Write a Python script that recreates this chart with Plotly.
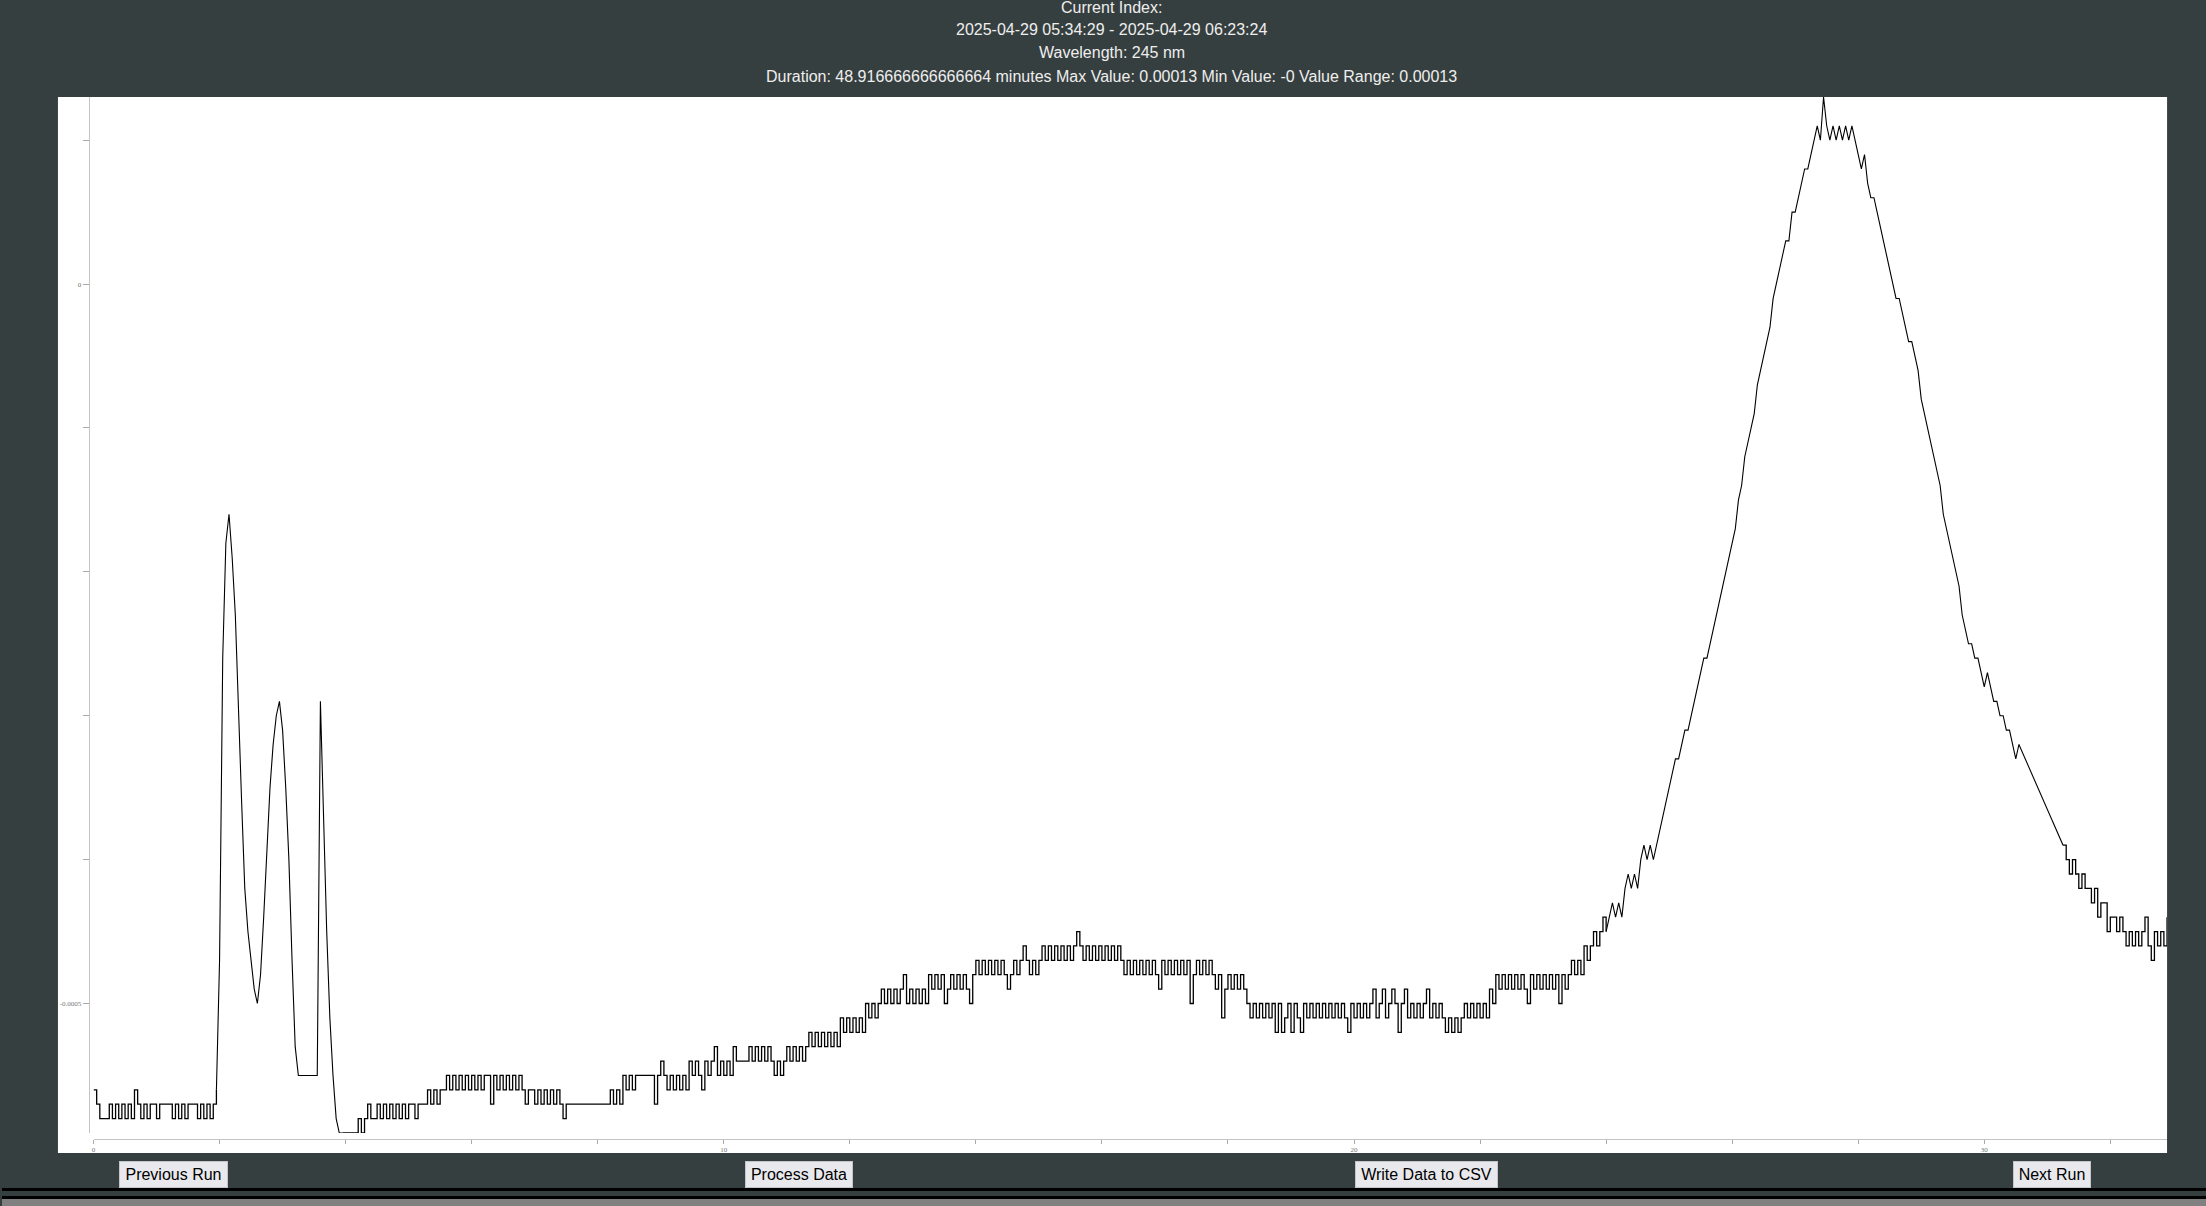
import plotly.graph_objects as go

# ---------------- data ----------------
# Absorbance readings in units of 1e-5 AU, one sample every 0.05 min.
# Run 1: 0.00 -> 30.55 min, one row per minute (20 samples per row)
run1_levels = [
    -56, -57, -58, -58, -58, -57, -58, -57, -58, -57, -58, -57, -58, -56, -57, -58, -57, -58, -57, -57,  # 0
    -58, -57, -57, -57, -57, -58, -57, -58, -57, -58, -57, -57, -57, -58, -57, -58, -57, -58, -57, -56,  # 1
    -47, -26, -18, -16, -19, -23, -30, -36, -42, -45, -47, -49, -50, -48, -44, -39, -35, -32, -30, -29,  # 2
    -31, -35, -40, -47, -53, -55, -55, -55, -55, -55, -55, -55, -29, -37, -45, -51, -55, -58, -59, -59,  # 3
    -59, -59, -59, -59, -58, -59, -58, -57, -58, -58, -57, -58, -57, -58, -57, -58, -57, -58, -57, -58,  # 4
    -57, -57, -58, -57, -57, -57, -56, -57, -56, -57, -56, -56, -55, -56, -55, -56, -55, -56, -55, -56,  # 5
    -55, -56, -55, -56, -55, -55, -57, -55, -56, -55, -56, -55, -56, -55, -56, -55, -56, -57, -56, -56,  # 6
    -57, -56, -57, -56, -57, -56, -57, -56, -57, -58, -57, -57, -57, -57, -57, -57, -57, -57, -57, -57,  # 7
    -57, -57, -57, -57, -56, -57, -56, -57, -55, -56, -55, -56, -55, -55, -55, -55, -55, -55, -57, -55,  # 8
    -54, -55, -56, -55, -56, -55, -56, -55, -56, -54, -55, -54, -55, -56, -54, -55, -54, -53, -55, -54,  # 9
    -55, -54, -55, -53, -54, -54, -54, -54, -53, -54, -53, -54, -53, -54, -53, -54, -55, -54, -55, -54,  # 10
    -53, -54, -53, -54, -53, -54, -53, -52, -53, -52, -53, -52, -53, -52, -53, -52, -53, -51, -52, -51,  # 11
    -52, -51, -52, -51, -52, -50, -51, -50, -51, -50, -49, -50, -49, -50, -49, -50, -49, -48, -50, -49,  # 12
    -50, -49, -50, -49, -50, -48, -49, -48, -49, -48, -50, -49, -48, -49, -48, -49, -48, -49, -50, -48,  # 13
    -47, -48, -47, -48, -47, -48, -47, -48, -47, -48, -49, -48, -47, -48, -47, -46, -47, -48, -47, -48,  # 14
    -47, -46, -47, -46, -47, -46, -47, -46, -47, -46, -47, -46, -45, -46, -47, -46, -47, -46, -47, -46,  # 15
    -47, -46, -47, -46, -47, -46, -47, -48, -47, -48, -47, -48, -47, -48, -47, -48, -47, -48, -49, -47,  # 16
    -48, -47, -48, -47, -48, -47, -48, -47, -50, -48, -47, -48, -47, -48, -47, -48, -49, -48, -51, -49,  # 17
    -48, -49, -48, -49, -48, -49, -50, -51, -50, -51, -50, -51, -50, -51, -50, -52, -50, -52, -51, -50,  # 18
    -52, -50, -51, -52, -50, -51, -50, -51, -50, -51, -50, -51, -50, -51, -50, -51, -50, -51, -52, -50,  # 19
    -51, -50, -51, -50, -51, -50, -49, -51, -50, -49, -51, -50, -49, -50, -52, -50, -49, -51, -50, -51,  # 20
    -50, -51, -50, -49, -51, -50, -51, -50, -51, -52, -51, -52, -51, -52, -51, -50, -51, -50, -51, -50,  # 21
    -51, -50, -51, -49, -50, -48, -49, -48, -49, -48, -49, -48, -49, -48, -49, -50, -48, -49, -48, -49,  # 22
    -48, -49, -48, -49, -48, -50, -48, -49, -48, -47, -48, -47, -48, -46, -47, -46, -45, -46, -45, -44,  # 23
    -45, -44, -43, -44, -43, -44, -42, -41, -42, -41, -42, -40, -39, -40, -39, -40, -39, -38, -37, -36,  # 24
    -35, -34, -33, -33, -32, -31, -31, -30, -29, -28, -27, -26, -26, -25, -24, -23, -22, -21, -20, -19,  # 25
    -18, -17, -15, -14, -12, -11, -10, -9, -7, -6, -5, -4, -3, -1, 0, 1, 2, 3, 3, 5,                   # 26
    5, 6, 7, 8, 8, 9, 10, 11, 10, 13, 11, 10, 11, 10, 11, 10, 11, 10, 11, 10,                           # 27
    9, 8, 9, 7, 6, 6, 5, 4, 3, 2, 1, 0, -1, -1, -2, -3, -4, -4, -5, -6,                                 # 28
    -8, -9, -10, -11, -12, -13, -14, -16, -17, -18, -19, -20, -21, -23, -24, -25, -25, -26, -26, -27,   # 29
    -28, -27, -28, -29, -29, -30, -30, -31, -31, -32, -33, -32,                                         # 30
]
# Run 2 (after the gap in acquisition): 31.25 -> 32.90 min
run2_levels = [
    -39, -40, -41, -40, -41, -42, -41, -42, -42, -43, -42, -44, -43, -43, -45, -44, -44,
    -45, -44, -45, -46, -45, -46, -45, -46, -45, -44, -46, -47, -45, -46, -45, -46, -44,
]
sample_interval_min = 0.05
run1_start_min = 0.0
run2_start_min = 31.25
level_unit_au = 1e-5

# sample-index ranges of run 1 drawn as straight segments (the peaks); the rest is drawn as steps
smooth_sections = [(39, 79), (480, 612)]

x_range = [0, 32.9]
y_range = [-0.00059, 0.00013]

x_tick_vals = [0, 2, 4, 6, 8, 10, 12, 14, 16, 18, 20, 22, 24, 26, 28, 30, 32]
x_tick_text = ["0", "", "", "", "", "10", "", "", "", "", "20", "", "", "", "", "30", ""]
y_tick_vals = [0.0001, 0, -0.0001, -0.0002, -0.0003, -0.0004, -0.0005]
y_tick_text = ["", "0", "", "", "", "", "-0.0005"]

title_lines = [
    "Current Index:",
    "2025-04-29 05:34:29 - 2025-04-29 06:23:24",
    "Wavelength: 245 nm",
    "Duration: 48.916666666666664 minutes Max Value: 0.00013 Min Value: -0 Value Range: 0.00013",
]
button_labels = ["Previous Run", "Process Data", "Write Data to CSV", "Next Run"]

# ---------------- layout geometry (pixels) ----------------
W, H = 2206, 1206
BG = "#363f3f"


def fx(px):
    return px / W


def fy(py):
    return 1 - py / H


t1 = [round(run1_start_min + i * sample_interval_min, 4) for i in range(len(run1_levels))]
t2 = [round(run2_start_min + i * sample_interval_min, 4) for i in range(len(run2_levels))]
a1 = [v * level_unit_au for v in run1_levels]
a2 = [v * level_unit_au for v in run2_levels]

step_style = dict(color="#000000", width=1.3, shape="hv")
smooth_style = dict(color="#000000", width=1.1, shape="linear")

fig = go.Figure()


def add_piece(xs, ys, style):
    fig.add_trace(go.Scatter(x=xs, y=ys, mode="lines", line=style,
                             hoverinfo="skip", showlegend=False))


# run 1, split into stepped (noisy baseline) and straight (peak) pieces
cursor = 0
for s0, s1 in smooth_sections:
    if s0 > cursor:
        add_piece(t1[cursor:s0 + 1], a1[cursor:s0 + 1], step_style)
    add_piece(t1[s0:s1 + 1], a1[s0:s1 + 1], smooth_style)
    cursor = s1
if cursor < len(t1) - 1:
    add_piece(t1[cursor:], a1[cursor:], step_style)

# straight connection across the acquisition gap
add_piece([t1[-1], t2[0]], [a1[-1], a2[0]], smooth_style)
# run 2
add_piece(t2, a2, step_style)

tick_font = dict(family="Liberation Serif, DejaVu Serif, serif", size=7, color="#777777")

shapes = [
    # white chart panel
    dict(type="rect", xref="paper", yref="paper", x0=fx(56), x1=fx(2167), y0=fy(1153), y1=fy(97),
         fillcolor="#ffffff", line=dict(width=0), layer="below"),
    # bottom bars
    dict(type="rect", xref="paper", yref="paper", x0=0, x1=1, y0=fy(1191), y1=fy(1188),
         fillcolor="#000000", line=dict(width=0), layer="below"),
    dict(type="rect", xref="paper", yref="paper", x0=0, x1=1, y0=fy(1199), y1=fy(1196),
         fillcolor="#000000", line=dict(width=0), layer="below"),
    dict(type="rect", xref="paper", yref="paper", x0=0, x1=1, y0=0, y1=fy(1199),
         fillcolor="#808080", line=dict(width=0), layer="below"),
]

annotations = []
title_y = [7, 29.5, 53, 76.5]
for txt, yy in zip(title_lines, title_y):
    annotations.append(dict(
        text=txt, xref="paper", yref="paper", x=fx(1111), y=fy(yy),
        xanchor="center", yanchor="middle", showarrow=False,
        font=dict(family="Liberation Sans, Arial, sans-serif", size=16, color="#eeeeee"),
    ))

button_boxes = [(117, 226), (744, 852), (1354, 1497), (2013, 2091)]
for label, (bx0, bx1) in zip(button_labels, button_boxes):
    annotations.append(dict(
        text=label, xref="paper", yref="paper", x=fx((bx0 + bx1) / 2), y=fy(1174.5),
        xanchor="center", yanchor="middle", showarrow=False,
        width=bx1 - bx0 - 2, height=25, borderpad=0, borderwidth=1,
        bordercolor="#c4c4cc", bgcolor="#e9e9ed", align="center", valign="middle",
        font=dict(family="Liberation Sans, Arial, sans-serif", size=16, color="#000000"),
    ))

fig.update_layout(
    width=W, height=H, autosize=False,
    margin=dict(l=0, r=0, t=0, b=0, pad=0),
    paper_bgcolor=BG, plot_bgcolor="#ffffff",
    showlegend=False,
    shapes=shapes, annotations=annotations,
    xaxis=dict(
        domain=[fx(91.6), fx(2167)], range=x_range, anchor="free", position=fy(1139),
        showgrid=False, zeroline=False, showline=True, linecolor="#c4c4c4", linewidth=1,
        ticks="outside", ticklen=4, tickcolor="#aaaaaa", tickwidth=1,
        tickmode="array", tickvals=x_tick_vals, ticktext=x_tick_text, tickfont=tick_font,
    ),
    yaxis=dict(
        domain=[fy(1133), fy(97)], range=y_range, anchor="free", position=fx(86.7),
        showgrid=False, zeroline=False, showline=True, linecolor="#c4c4c4", linewidth=1,
        ticks="outside", ticklen=6, tickcolor="#aaaaaa", tickwidth=1,
        tickmode="array", tickvals=y_tick_vals, ticktext=y_tick_text, tickfont=tick_font,
    ),
)

fig.write_html(
    "out.html",
    config={"displayModeBar": False},
    post_script="document.body.style.margin='0px';document.body.style.overflow='hidden';",
)
